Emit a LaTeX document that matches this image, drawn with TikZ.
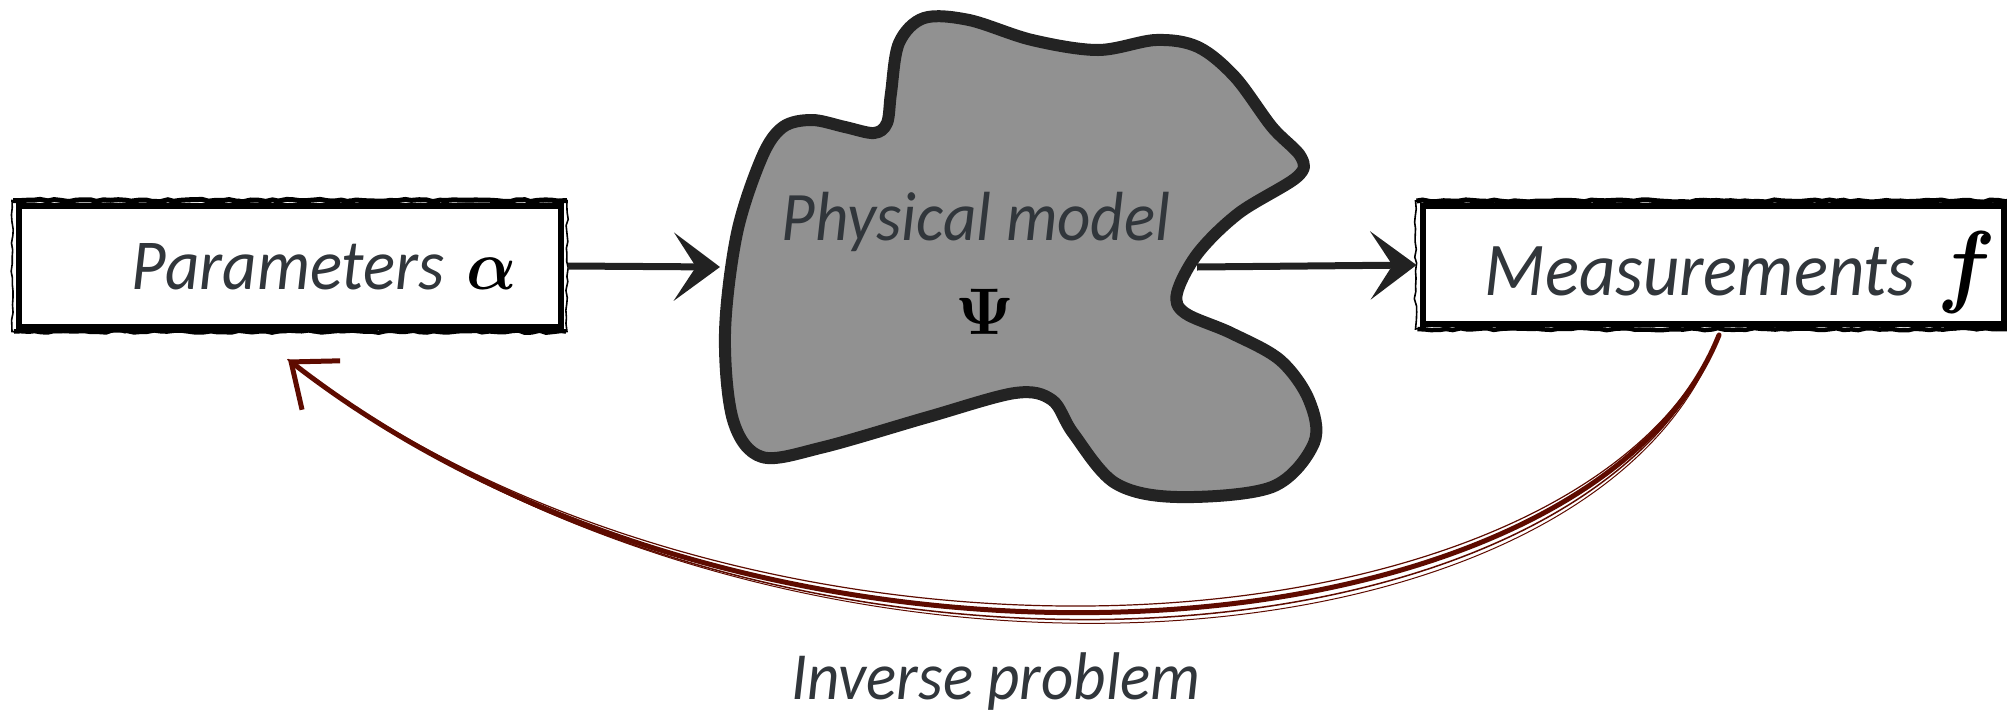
\documentclass[tikz,border=0pt]{standalone}
\usepackage[no-math]{fontspec}
\setmainfont{Carlito}
\usepackage{bm}
\usetikzlibrary{arrows.meta,decorations.pathmorphing}
\definecolor{txt}{HTML}{31363B}
\definecolor{invred}{HTML}{5E0B00}
\definecolor{blobfill}{HTML}{919191}
\definecolor{blobline}{HTML}{232323}
\definecolor{arr}{HTML}{222222}
\newcommand{\vstretch}[1]{\scalebox{1}[1.07]{#1}}
\newcommand{\bigmath}[2]{\scalebox{#1}{\fontsize{10}{12}\selectfont$#2$}}
\begin{document}
\begin{tikzpicture}[x=1pt,y=-1pt,
  lbl/.style={font=\fontsize{70}{80}\selectfont\itshape, text=txt},
  sketchbox/.style={draw=black, line width=6pt, inner ysep=0pt},
  rough/.style={decorate, decoration={random steps, segment length=7pt, amplitude=1.2pt}},
  fwd/.style={draw=arr, line width=7pt, -{Stealth[length=46pt,width=68pt,inset=22pt]}},
  brush/.style={draw=invred, line cap=round},
]
\pgfmathsetseed{7}
\useasboundingbox (0,0) rectangle (2007,713);

% boxes
\node[sketchbox, lbl, font=\fontsize{67}{80}\selectfont\itshape, minimum width=542pt, minimum height=121pt,
      text width=454pt, align=right, inner xsep=44pt, text height=46pt, text depth=0pt] (par) at (290,266)
      {\vstretch{Parameters \textcolor{black}{\bigmath{6.6}{\bm{\alpha}}}}};
\node[sketchbox, lbl, font=\fontsize{71}{80}\selectfont\itshape, minimum width=581pt, minimum height=118pt,
      text width=565pt, align=right, inner xsep=8pt, text height=60pt, text depth=0pt] (meas) at (1713,265)
      {\vstretch{Measurements\hspace{22pt}\textcolor{black}{\bigmath{8.6}{\bm{f}}}}};

\foreach \b in {par,meas}{
  \draw[rough, line width=1.6pt] ([shift={(-4,-2)}]\b.north west) rectangle ([shift={(3,2)}]\b.south east);
  \draw[rough, line width=5pt] ([shift={(-3,-2)}]\b.north west) -- ([shift={(3,-2)}]\b.north east);
  \draw[rough, line width=4.5pt] ([shift={(-2,2)}]\b.south west) -- ([shift={(2,2)}]\b.south east);
}

% blob
\draw[fill=blobfill, draw=blobline, line width=12pt, line join=round]
  plot[smooth cycle, tension=0.55] coordinates {
  (899,43) (924,18) (969,20) (1032,40) (1098,50) (1156,40) (1198,47) (1235,77)
  (1272,127) (1301,157) (1297,177) (1239,213) (1198,253) (1177,293) (1185,313)
  (1231,333) (1280,360) (1309,400) (1314,443) (1272,487) (1177,497) (1115,483)
  (1073,433) (1052,400) (1015,393) (928,417) (824,447) (762,457) (733,420)
  (725,333) (737,233) (762,157) (783,127) (812,120) (845,127) (874,133)
  (887,123) (891,93)};
\coordinate (blobL) at (720,267);
\coordinate (blobR) at (1197,267);

\node[lbl, font=\fontsize{65}{70}\selectfont\itshape, anchor=base] (phys) at (976,240) {\vstretch{Physical model}};
\node (psi) at (985,312) {\bigmath{6.6}{\mathbf{\Psi}}};

% forward arrows
\draw[fwd] ([xshift=4pt]par.east) -- (blobL);
\draw[fwd] (blobR) -- ([xshift=-3pt]meas.west);

% inverse arrow
\coordinate (rs) at ([shift={(6,8)}]meas.south);
\coordinate (re) at ([shift={(-2,30)}]par.south);
\draw[brush, line width=5pt, -{Straight Barb[length=38pt,width=62pt,line width=5pt]}]
  (rs) .. controls (1586,668) and (764,730) .. (re);
\draw[brush, line width=1.5pt] (rs) .. controls (1592,677) and (770,741) .. (re);
\draw[brush, line width=1.2pt] (rs) .. controls (1580,661) and (758,721) .. (re);
\draw[brush, line width=1pt] (rs) .. controls (1597,682) and (780,746) .. (re);

\node[lbl, font=\fontsize{63}{70}\selectfont\itshape, anchor=base] (invtxt) at (996,699) {\vstretch{Inverse problem}};
\end{tikzpicture}
\end{document}
